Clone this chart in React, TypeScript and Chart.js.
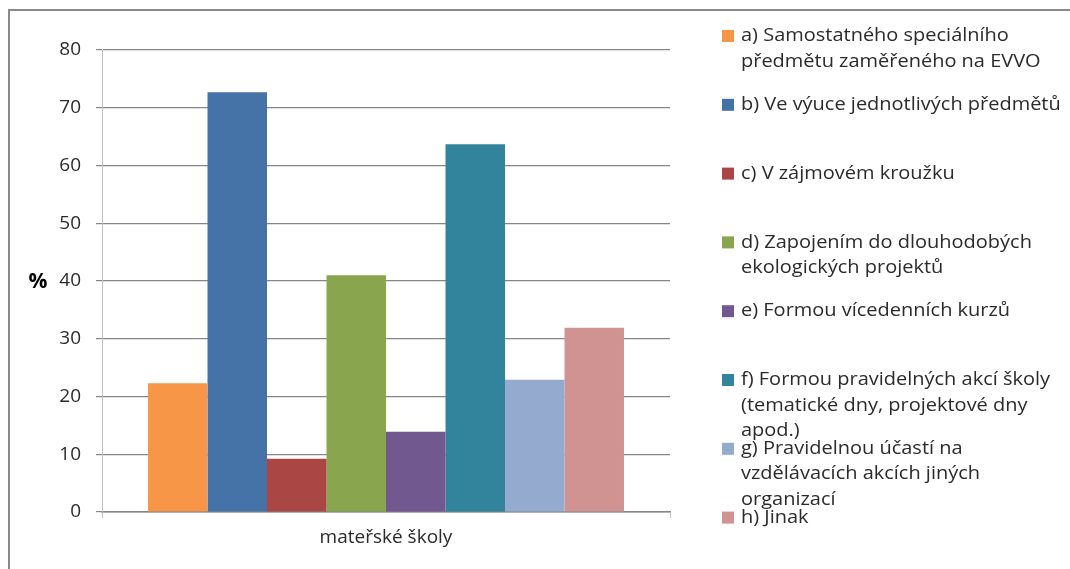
import React, { useEffect, useRef } from "react";
import { Chart, registerables } from "chart.js";

Chart.register(...registerables);

const CATEGORIES = ["mateřské školy"];
const SERIES_LABELS = [
  ["a) Samostatného speciálního", "předmětu zaměřeného na EVVO"],
  ["b) Ve výuce jednotlivých předmětů"],
  ["c) V zájmovém kroužku"],
  ["d) Zapojením do dlouhodobých", "ekologických projektů"],
  ["e) Formou vícedenních kurzů"],
  ["f) Formou pravidelných akcí školy", "(tematické dny, projektové dny", "apod.)"],
  ["g) Pravidelnou účastí na", "vzdělávacích akcích jiných", "organizací"],
  ["h) Jinak"],
];
const SERIES_VALUES = [22.3, 72.7, 9.2, 41.0, 13.9, 63.7, 22.9, 31.9];
const SERIES_COLORS = [
  "#F79646",
  "#4572A7",
  "#AA4643",
  "#89A54E",
  "#71588F",
  "#31849B",
  "#95AACF",
  "#D19392",
];
const Y_MIN = 0;
const Y_MAX = 80;
const Y_STEP = 10;
const Y_TITLE = "%";

const FONT = "'Open Sans', Lato, sans-serif";

const decorPlugin = {
  id: "decor",
  afterDraw(chart: any) {
    const ctx = chart.ctx;
    ctx.save();
    // outer frame (top + left)
    ctx.fillStyle = "#8A8A8A";
    ctx.fillRect(8, 9, 1062, 2);
    ctx.fillRect(8, 9, 2, 560);
    // y title
    ctx.fillStyle = "#000000";
    ctx.font = `bold 21px ${FONT}`;
    ctx.textAlign = "center";
    ctx.textBaseline = "middle";
    ctx.fillText(Y_TITLE, 38, 282);
    // legend
    const x0 = 722;
    const y0 = 36;
    const itemStep = 68.8;
    const lineH = 25.5;
    const sx = 1.11;
    ctx.font = `18px ${FONT}`;
    ctx.textAlign = "left";
    chart.data.datasets.forEach((ds: any, i: number) => {
      const y = y0 + i * itemStep;
      ctx.fillStyle = ds.backgroundColor;
      ctx.fillRect(x0, y - 6, 12, 12);
      ctx.fillStyle = "#2b2b2b";
      (ds.legendLines as string[]).forEach((line, j) => {
        ctx.save();
        ctx.translate(x0 + 19, y + j * lineH);
        ctx.scale(sx, 1);
        ctx.fillText(line, 0, 0);
        ctx.restore();
      });
    });
    ctx.restore();
  },
};

export default function App() {
  const ref = useRef<HTMLCanvasElement>(null);
  useEffect(() => {
    if (!ref.current) return;
    const chart = new Chart(ref.current, {
      type: "bar",
      data: {
        labels: CATEGORIES,
        datasets: SERIES_LABELS.map((lines, i) => ({
          label: lines.join(" "),
          legendLines: lines,
          data: [SERIES_VALUES[i]],
          backgroundColor: SERIES_COLORS[i],
          borderWidth: 0,
          categoryPercentage: 0.838,
          barPercentage: 1,
        })) as any,
      },
      options: {
        responsive: false,
        animation: false,
        devicePixelRatio: 1,
        layout: { padding: { top: 50, right: 400, left: 0, bottom: 0 } },
        plugins: {
          legend: { display: false },
          tooltip: { enabled: false },
        },
        scales: {
          x: {
            grid: {
              display: true,
              drawOnChartArea: false,
              tickLength: 6,
              color: "#BFBFBF",
              offset: true,
            },
            border: { color: "#868686", width: 1.5 },
            ticks: {
              color: "#2b2b2b",
              font: { family: FONT, size: 19 },
              padding: 8,
            },
            afterFit(scale: any) {
              scale.height = 57;
            },
          },
          y: {
            min: Y_MIN,
            max: Y_MAX,
            grid: {
              color: "#868686",
              lineWidth: 1.2,
              tickLength: 6,
            },
            border: { color: "#BFBFBF", width: 1 },
            ticks: {
              stepSize: Y_STEP,
              color: "#2b2b2b",
              font: { family: FONT, size: 19 },
              padding: 15,
            },
            afterFit(scale: any) {
              scale.width = 102;
            },
          },
        },
      },
      plugins: [decorPlugin],
    });
    return () => chart.destroy();
  }, []);
  return (
    <div style={{ position: "fixed", left: 0, top: 0, width: 1070, height: 569, background: "#fff" }}>
      <canvas ref={ref} width={1070} height={569} style={{ display: "block" }} />
    </div>
  );
}
